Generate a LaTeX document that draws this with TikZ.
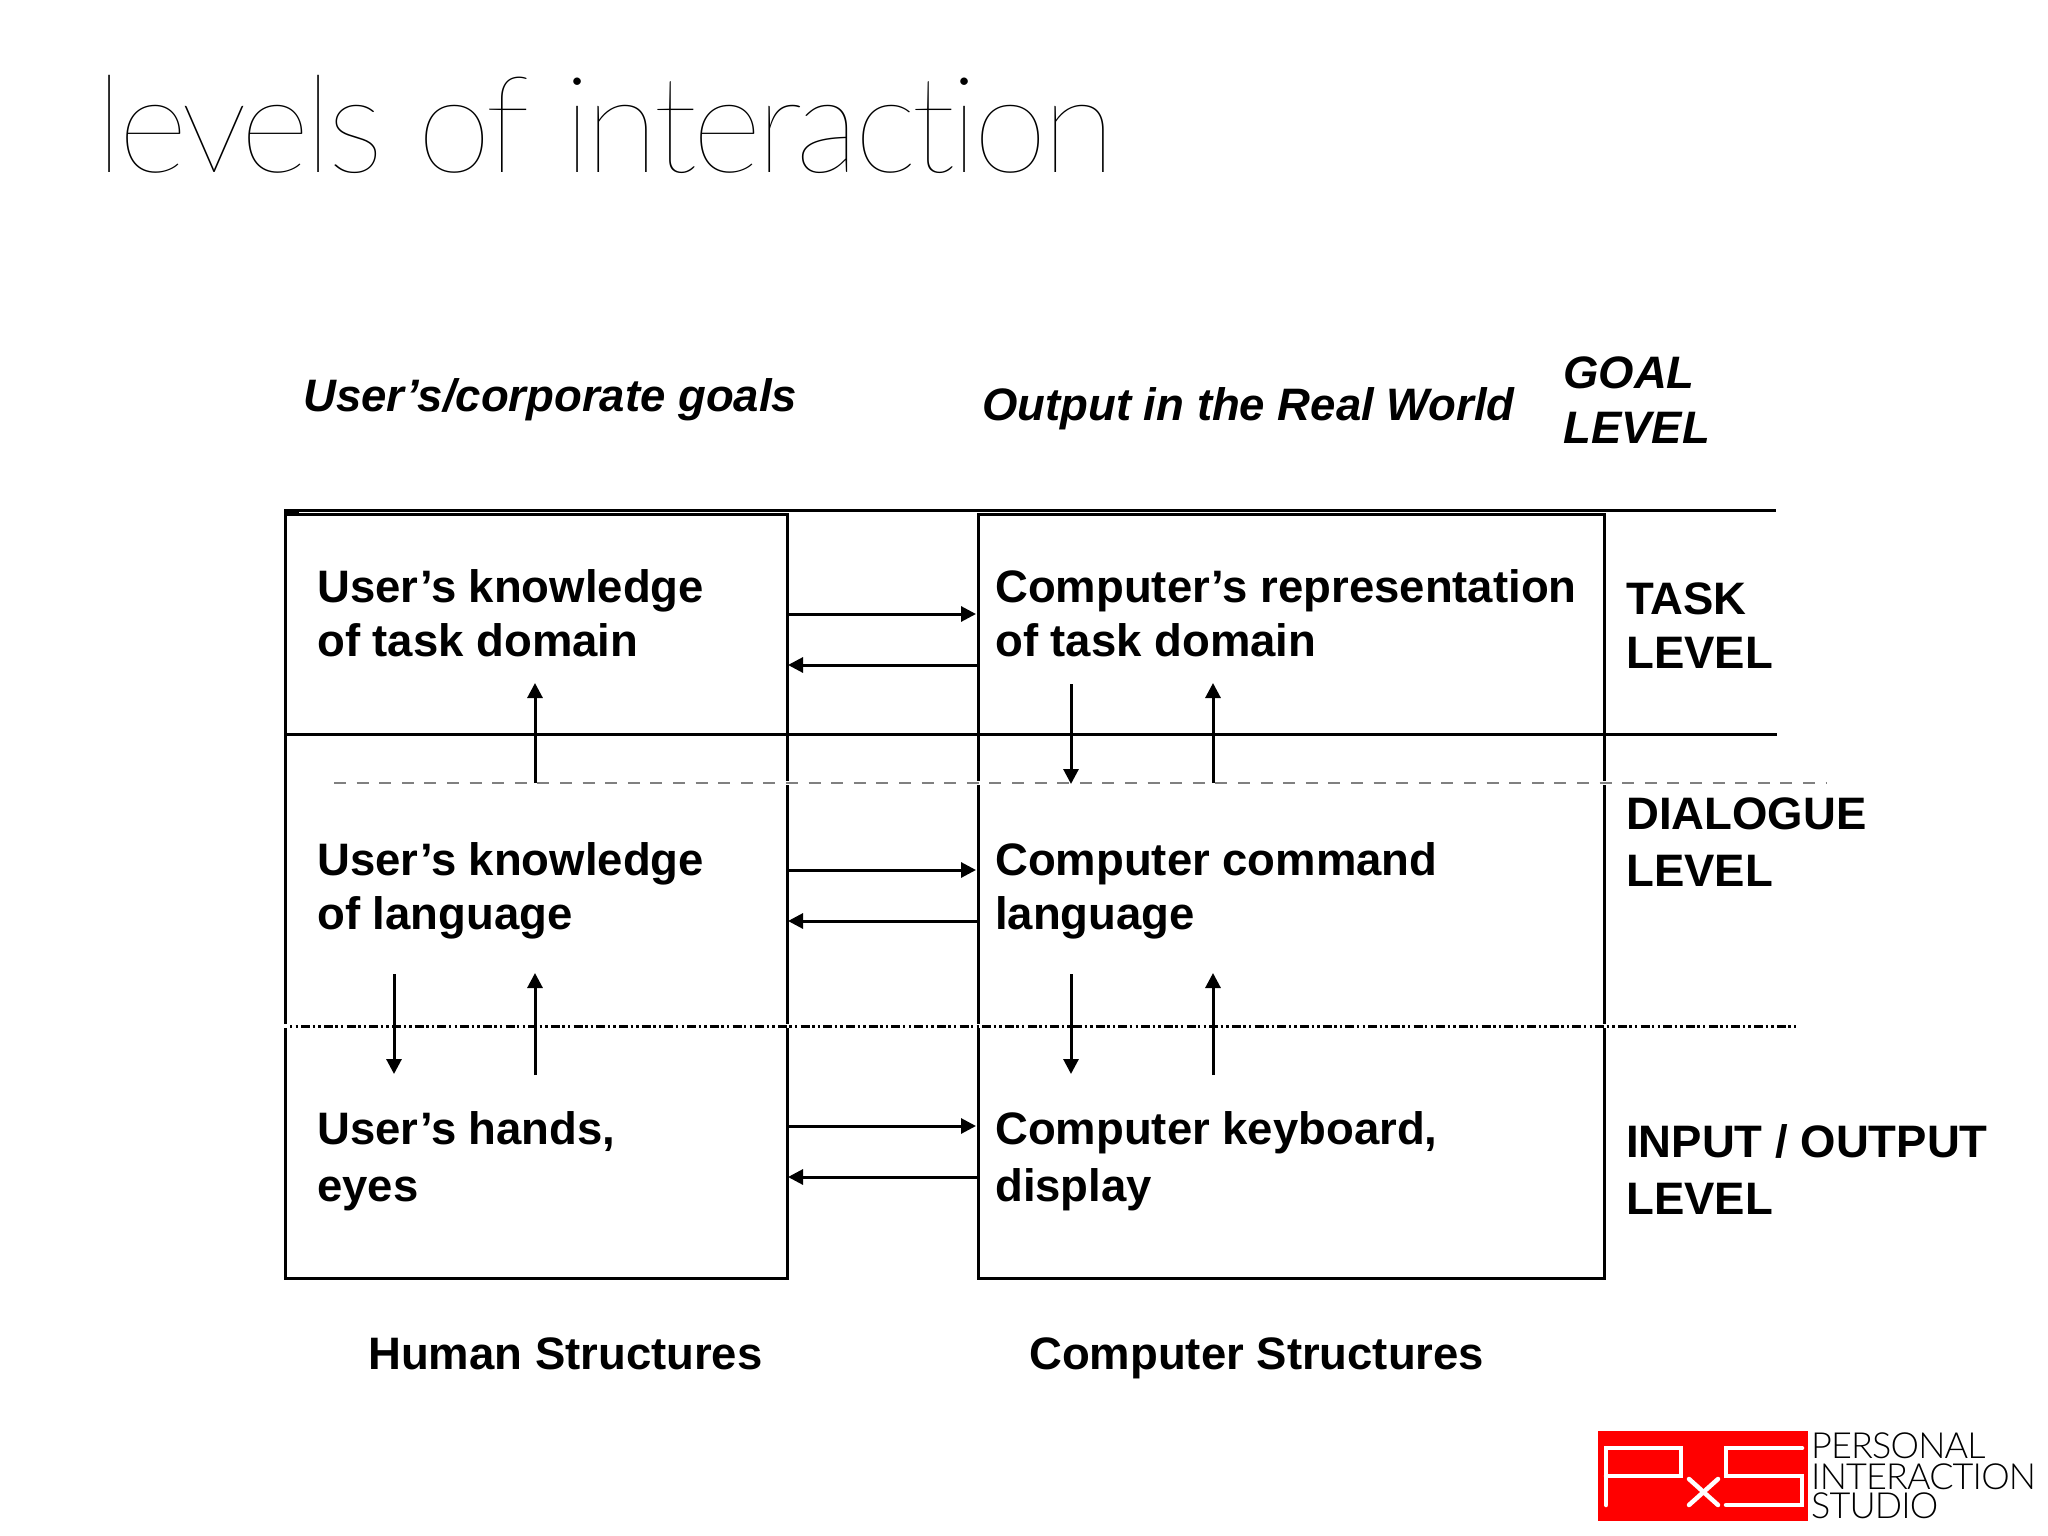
\documentclass[tikz,border=0pt]{standalone}
\usepackage{fontspec}
\setmainfont{Liberation Sans}
\newfontfamily\thinfont[LetterSpace=-4,Ligatures=CommonOff]{Lato Hairline}
\newfontfamily\logofont[LetterSpace=-2.4,Ligatures=CommonOff]{Lato Light}
\usetikzlibrary{arrows.meta}
\newcommand{\twol}[3]{\vtop{\baselineskip=#1pt\lineskiplimit=-100pt\hbox{#2}\hbox{#3}}}
\tikzset{
 lab/.style={anchor=base west,inner sep=0pt,font=\fontsize{45.5}{54}\selectfont\bfseries},
 ilab/.style={anchor=base west,inner sep=0pt,font=\fontsize{45.5}{54}\selectfont\bfseries\itshape},
 boxnode/.style={draw=black,line width=3pt,inner sep=0pt},
 rule/.style={draw=black,line width=3pt},
 arr/.style={draw=black,line width=3pt,-{Triangle[length=15pt,width=15pt]},shorten >=0pt},
 gdash/.style={draw=black!50,line width=1.8pt,dash pattern=on 12pt off 10.6pt},
 kdot/.style={draw=black,line width=3pt,dash pattern=on 2.4pt off 3.2pt on 2.4pt off 3.2pt on 9pt off 2.5pt},
 gapln/.style={draw=white,line width=3pt},
 logoln/.style={draw=white,line width=4.5pt,line cap=round},
 logotx/.style={anchor=base west,inner sep=0pt,font=\fontsize{36}{36}\logofont},
}
\begin{document}
\begin{tikzpicture}[x=1pt,y=-1pt]
\useasboundingbox (0,0) rectangle (2048,1536);
\fill[white] (0,0) rectangle (2048,1536);
% title
\node[anchor=base west,inner sep=0pt,font=\fontsize{135}{135}\thinfont] (title) at (95,172) {levels of interaction};
% boxes
\node[boxnode,minimum width=502pt,minimum height=764pt] (human) at (536,896) {};
\node[boxnode,minimum width=626pt,minimum height=764pt] (computer) at (1291,896) {};
% rules
\coordinate (r1a) at (284,510); \coordinate (r1b) at (1776,510);
\coordinate (r2a) at (285,734); \coordinate (r2b) at (1777,734);
\coordinate (r3a) at (334,783); \coordinate (r3b) at (1826,783);
\coordinate (r4a) at (290,1026); \coordinate (r4b) at (1796,1026);
\coordinate (tka) at (284,512); \coordinate (tkb) at (299,512);
\draw[rule] (r1a) -- (r1b);
\draw[rule] (tka) -- (tkb);
\draw[rule] (r2a) -- (r2b);
% small white gaps where the broken lines cross the box sides
\foreach \gx in {787,978,1604}{
  \draw[gapln] (\gx,781) -- (\gx,785);
  \draw[gapln] (\gx,1024) -- (\gx,1028);
}
\draw[gapln] (285,1024) -- (285,1028);
\draw[gdash] (r3a) -- (r3b);
\draw[kdot] (r4a) -- (r4b);
% horizontal arrows
\foreach \n/\ya/\yb in {a/614/665,b/870/921,c/1126/1177}{
  \coordinate (h\n1) at (789,\ya); \coordinate (h\n2) at (976,\ya);
  \coordinate (h\n3) at (978,\yb); \coordinate (h\n4) at (788,\yb);
  \draw[arr] (h\n1) -- (h\n2);
  \draw[arr] (h\n3) -- (h\n4);
}
% vertical arrows
\coordinate (v1a) at (535,783); \coordinate (v1b) at (535,683);
\coordinate (v2a) at (1071,684); \coordinate (v2b) at (1071,784);
\coordinate (v3a) at (1213,783); \coordinate (v3b) at (1213,683);
\coordinate (v4a) at (394,974); \coordinate (v4b) at (394,1074);
\coordinate (v5a) at (535,1075); \coordinate (v5b) at (535,973);
\coordinate (v6a) at (1071,974); \coordinate (v6b) at (1071,1074);
\coordinate (v7a) at (1213,1075); \coordinate (v7b) at (1213,973);
\foreach \k in {1,...,7}{\draw[arr] (v\k a) -- (v\k b);}
% labels
\node[ilab] (ug) at (303,411) {User’s/corporate goals};
\node[ilab] (og) at (982,420) {Output in the Real World};
\node[ilab] (gl) at (1563,388) {\twol{55}{GOAL}{LEVEL}};
\node[lab] (u1) at (317,602) {\twol{54}{User’s knowledge}{of task domain}};
\node[lab] (u2) at (317,875) {\twol{54}{User’s knowledge}{of language}};
\node[lab] (u3) at (317,1144) {\twol{57}{User’s hands,}{eyes}};
\node[lab] (c1) at (995,602) {\twol{54}{Computer’s representation}{of task domain}};
\node[lab] (c2) at (995,875) {\twol{54}{Computer command}{language}};
\node[lab] (c3) at (995,1144) {\twol{57}{Computer keyboard,}{display}};
\node[lab] (l1) at (1626,614) {\twol{54}{TASK}{LEVEL}};
\node[lab] (l2) at (1626,829) {\twol{57}{DIALOGUE}{LEVEL}};
\node[lab] (l3) at (1626,1157) {\twol{57}{INPUT / OUTPUT}{LEVEL}};
\node[lab] (hs) at (368,1369) {Human Structures};
\node[lab] (cs) at (1029,1369) {Computer Structures};
% logo
\fill[red] (1598,1431) rectangle (1808,1521);
\draw[logoln] (1606,1505) -- (1606,1448) -- (1681,1448) -- (1681,1476) -- (1606,1476);
\draw[logoln] (1802,1448) -- (1726,1448) -- (1726,1476) -- (1802,1476) -- (1802,1505) -- (1726,1505);
\draw[logoln] (1689,1479) -- (1718,1505);
\draw[logoln] (1718,1479) -- (1689,1505);
\node[logotx] (p1) at (1811,1458) {PERSONAL};
\node[logotx] (p2) at (1811,1489) {INTERACTION};
\node[logotx] (p3) at (1811,1518) {STUDIO};
\end{tikzpicture}
\end{document}
